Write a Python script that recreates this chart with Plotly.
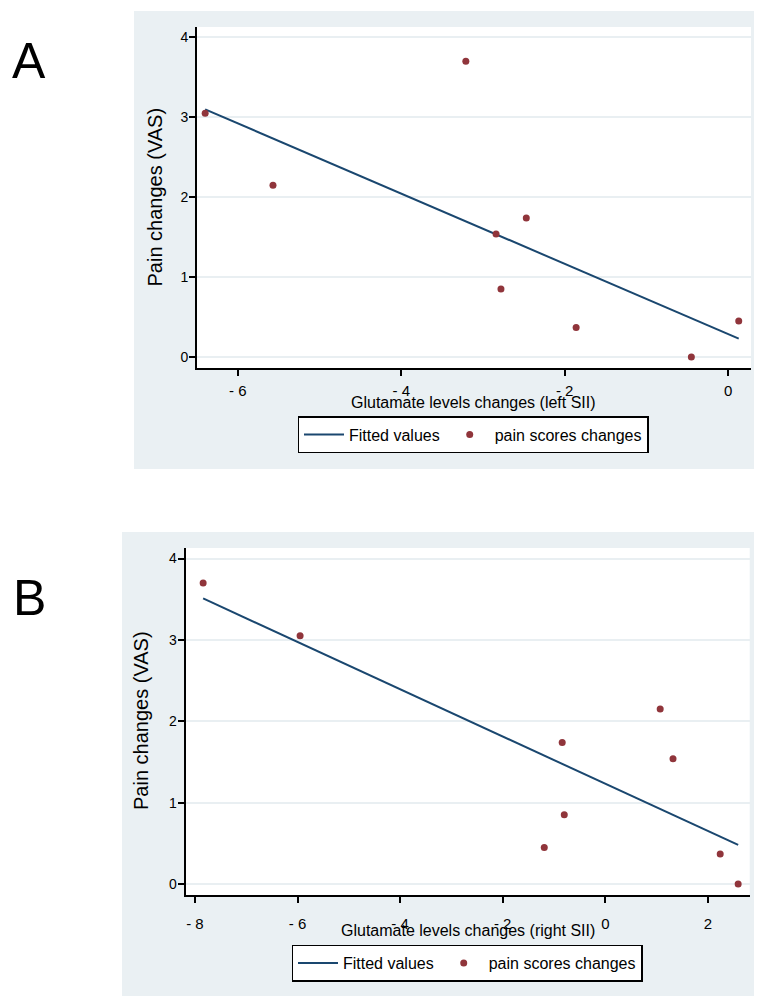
import plotly.graph_objects as go

# ---- data ----
pain_changes = [3.05, 2.15, 3.70, 1.74, 1.54, 0.85, 0.37, 0.00, 0.45]
glu_left = [-6.40, -5.57, -3.21, -2.47, -2.84, -2.78, -1.86, -0.45, 0.13]
glu_right = [-5.95, 1.07, -7.84, -0.84, 1.32, -0.80, 2.24, 2.59, -1.19]

fit_left_x = [-6.40, 0.13]
fit_left_y = [3.10, 0.23]
fit_right_x = [-7.84, 2.59]
fit_right_y = [3.51, 0.48]

ytick_vals = [0, 1, 2, 3, 4]
xtick_vals_a = [-6, -4, -2, 0]
xtick_vals_b = [-8, -6, -4, -2, 0, 2]

W, H = 762, 996
LINE = "#1A476F"
MARK = "#90353B"
PANEL_BG = "#EAF0F3"
GRID = "#E9EFF2"
TICKFONT = "Liberation Sans, Arial, sans-serif"


def px_x(p):
    return p / W


def px_y(p):
    return 1 - p / H


def lab(v):
    return ("- " + str(abs(v))) if v < 0 else str(v)


fig = go.Figure()

fig.add_trace(go.Scatter(x=fit_left_x, y=fit_left_y, mode="lines", name="Fitted values",
                         line=dict(color=LINE, width=2), xaxis="x", yaxis="y", legend="legend"))
fig.add_trace(go.Scatter(x=glu_left, y=pain_changes, mode="markers", name="pain scores changes",
                         marker=dict(color=MARK, size=7), xaxis="x", yaxis="y", legend="legend"))
fig.add_trace(go.Scatter(x=fit_right_x, y=fit_right_y, mode="lines", name="Fitted values",
                         line=dict(color=LINE, width=2), xaxis="x2", yaxis="y2", legend="legend2"))
fig.add_trace(go.Scatter(x=glu_right, y=pain_changes, mode="markers", name="pain scores changes",
                         marker=dict(color=MARK, size=7), xaxis="x2", yaxis="y2", legend="legend2"))

common_x = dict(showline=True, linecolor="black", linewidth=2, ticks="outside", ticklen=6,
                tickwidth=1.5, tickcolor="black", showgrid=False, zeroline=False,
                tickfont=dict(family=TICKFONT, size=15, color="black"))
common_y = dict(showline=True, linecolor="black", linewidth=2, ticks="outside", ticklen=6,
                tickwidth=1.5, tickcolor="black", showgrid=True, gridcolor=GRID, gridwidth=1.5,
                zeroline=False, tickfont=dict(family=TICKFONT, size=14, color="black"),
                tickvals=ytick_vals, ticktext=[str(v) for v in ytick_vals])

fig.update_layout(
    width=W, height=H, margin=dict(l=0, r=0, t=0, b=0),
    paper_bgcolor="white", plot_bgcolor="white",
    xaxis=dict(domain=[px_x(189), px_x(743)], range=[-6.50, 0.28], anchor="y",
               tickvals=xtick_vals_a, ticktext=[lab(v) for v in xtick_vals_a],
               ticklabelstandoff=2, **common_x),
    yaxis=dict(domain=[px_y(360), px_y(19)], range=[-0.1375, 4.13], anchor="x",
               ticklabelstandoff=-2, **common_y),
    xaxis2=dict(domain=[px_x(177.7), px_x(741.7)], range=[-8.18, 2.815], anchor="y2",
                tickvals=xtick_vals_b, ticktext=[lab(v) for v in xtick_vals_b],
                ticklabelstandoff=8, **common_x),
    yaxis2=dict(domain=[px_y(887.3), px_y(540)], range=[-0.139, 4.13], anchor="x2",
                ticklabelstandoff=-2, **common_y),
    legend=dict(orientation="h", x=px_x(465), y=px_y(426.5), xanchor="center", yanchor="middle",
                bgcolor="white", bordercolor="black", borderwidth=1.5,
                font=dict(family=TICKFONT, size=16, color="black"), itemwidth=40),
    legend2=dict(orientation="h", x=px_x(459), y=px_y(955), xanchor="center", yanchor="middle",
                 bgcolor="white", bordercolor="black", borderwidth=1.5,
                 font=dict(family=TICKFONT, size=16, color="black"), itemwidth=40),
    showlegend=True,
)

# panel backgrounds (light) and white plot regions, drawn below gridlines
fig.add_shape(type="rect", xref="paper", yref="paper", x0=px_x(126), x1=px_x(758),
              y0=px_y(461), y1=px_y(3), fillcolor=PANEL_BG, line=dict(width=0), layer="below")
fig.add_shape(type="rect", xref="paper", yref="paper", x0=px_x(114), x1=px_x(758),
              y0=px_y(990), y1=px_y(524), fillcolor=PANEL_BG, line=dict(width=0), layer="below")
fig.add_shape(type="rect", xref="x domain", yref="y domain", x0=0, x1=1, y0=0, y1=1,
              fillcolor="white", line=dict(width=0), layer="below")
fig.add_shape(type="rect", xref="x2 domain", yref="y2 domain", x0=0, x1=1, y0=0, y1=1,
              fillcolor="white", line=dict(width=0), layer="below")

ann = [
    dict(text="A", x=px_x(21), y=px_y(53), font=dict(family="Liberation Sans, Arial", size=50)),
    dict(text="B", x=px_x(21), y=px_y(590), font=dict(family="Liberation Sans, Arial", size=50)),
    dict(text="Pain changes (VAS)", x=px_x(146), y=px_y(189.5), textangle=-90,
         font=dict(family="Liberation Sans, Arial", size=20)),
    dict(text="Pain changes (VAS)", x=px_x(133), y=px_y(713), textangle=-90,
         font=dict(family="Liberation Sans, Arial", size=20)),
    dict(text="Glutamate levels changes (left SII)", x=px_x(466), y=px_y(394),
         font=dict(family=TICKFONT, size=16)),
    dict(text="Glutamate levels changes (right SII)", x=px_x(460), y=px_y(922),
         font=dict(family=TICKFONT, size=16)),
]
for a in ann:
    a.update(xref="paper", yref="paper", showarrow=False, xanchor="center", yanchor="middle")
    a["font"]["color"] = "black"
    fig.add_annotation(**a)

fig.write_html("out.html")
